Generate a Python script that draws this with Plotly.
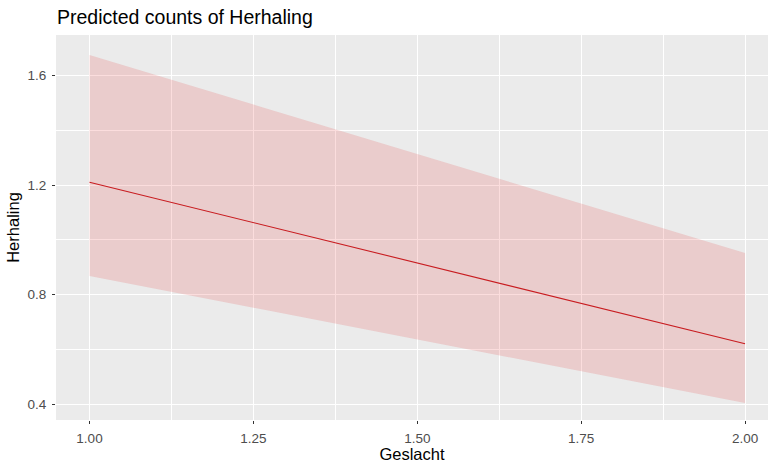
import plotly.graph_objects as go

# Predicted counts of Herhaling by Geslacht (with confidence band)
geslacht = [1.0, 2.0]
predicted = [1.211, 0.620]
conf_low = [0.868, 0.404]
conf_high = [1.676, 0.952]

x_ticks = [1.00, 1.25, 1.50, 1.75, 2.00]
x_tick_text = ["1.00", "1.25", "1.50", "1.75", "2.00"]
y_ticks = [0.4, 0.8, 1.2, 1.6]
y_tick_text = ["0.4", "0.8", "1.2", "1.6"]

band_fill = "rgba(228,26,28,0.15)"
line_color = "rgb(200,28,32)"
font_family = "Liberation Sans, Arial, sans-serif"

fig = go.Figure()

# Confidence band: lower edge, then upper edge filled down to it
fig.add_trace(go.Scatter(
    x=geslacht, y=conf_low, mode="lines",
    line=dict(width=0, color=band_fill), hoverinfo="skip", showlegend=False,
))
fig.add_trace(go.Scatter(
    x=geslacht, y=conf_high, mode="lines",
    line=dict(width=0, color=band_fill), fill="tonexty", fillcolor=band_fill,
    hoverinfo="skip", showlegend=False,
))
# Predicted line
fig.add_trace(go.Scatter(
    x=geslacht, y=predicted, mode="lines",
    line=dict(width=1.1, color=line_color), showlegend=False,
))

axis_common = dict(
    showgrid=True, gridcolor="white", gridwidth=1.2,
    zeroline=False, showline=False,
    ticks="outside", ticklen=3, tickwidth=1, tickcolor="#333333",
    tickfont=dict(size=13.5, color="#4D4D4D", family=font_family),
)

fig.update_xaxes(
    range=[0.9489, 2.035], tickvals=x_ticks, ticktext=x_tick_text,
    minor=dict(tick0=1.0, dtick=0.125, showgrid=True, gridcolor="white",
               gridwidth=0.6, ticks=""),
    title=dict(text="Geslacht", standoff=2,
               font=dict(size=16.5, color="black", family=font_family)),
    ticklabelstandoff=3,
    **axis_common,
)
fig.update_yaxes(
    range=[0.3415, 1.749], tickvals=y_ticks, ticktext=y_tick_text,
    minor=dict(tick0=0.4, dtick=0.2, showgrid=True, gridcolor="white",
               gridwidth=0.6, ticks=""),
    title=dict(text="Herhaling", standoff=3,
               font=dict(size=16.5, color="black", family=font_family)),
    ticklabelstandoff=3,
    **axis_common,
)

fig.update_layout(
    width=768, height=463,
    margin=dict(l=56, r=0, t=35, b=43),
    paper_bgcolor="white", plot_bgcolor="#EBEBEB",
    title=dict(text="Predicted counts of Herhaling", x=57 / 768, xanchor="left",
               y=1 - 17 / 463, yanchor="middle",
               font=dict(size=19.5, color="black", family=font_family)),
    font=dict(family=font_family),
)

fig.write_html("out.html")
